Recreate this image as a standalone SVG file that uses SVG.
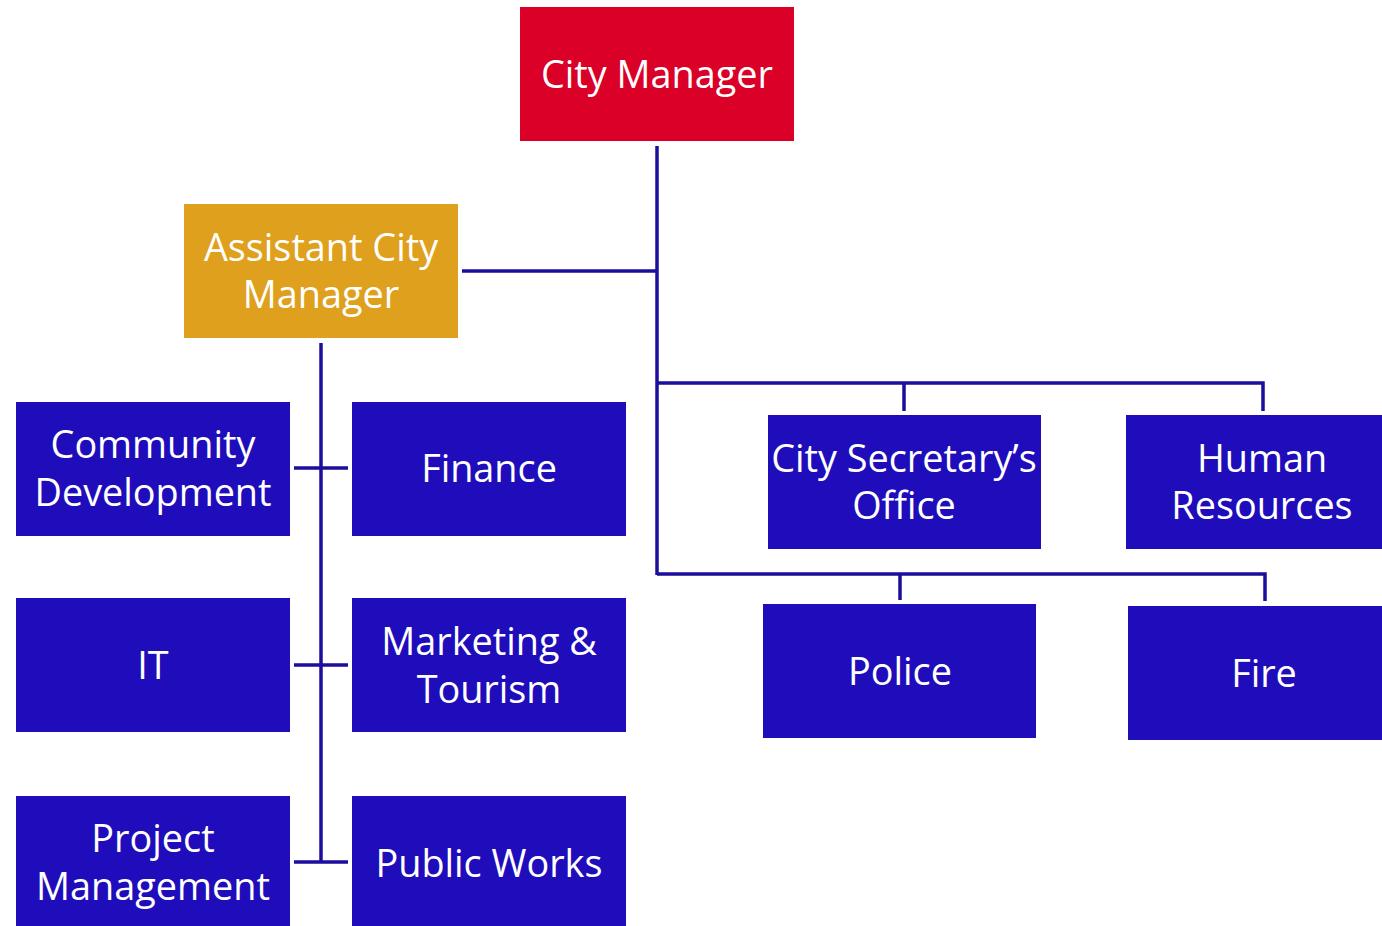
<svg xmlns="http://www.w3.org/2000/svg" width="1382" height="926" viewBox="0 0 1382 926">
  <style>
    .box { fill: #1F0DBB; }
    .lbl { fill: #ffffff; font-family: "Open Sans", "Noto Sans", "Liberation Sans", sans-serif; font-size: 37.8px; text-anchor: middle; }
    .wire { fill: none; stroke: #1C0E9C; stroke-width: 3.5; }
  </style>
  <rect width="1382" height="926" fill="#ffffff"/>

  <!-- reporting lines -->
  <g id="connectors">
    <path class="wire" d="M657 146 V575"/>
    <path class="wire" d="M462 271 H657"/>
    <path class="wire" d="M657 383 H1263 V411 M904 383 V411"/>
    <path class="wire" d="M657 574 H1265 V601 M900 574 V600"/>
    <path class="wire" d="M321 343 V862"/>
    <path class="wire" d="M294 468 H348 M294 665 H348 M294 862 H348"/>
  </g>

  <g id="city-manager">
    <rect x="520" y="7" width="274" height="134" fill="#DA0027"/>
    <text class="lbl" x="657" y="88">City Manager</text>
  </g>

  <g id="assistant-city-manager">
    <rect x="184" y="204" width="274" height="134" fill="#DFA01E"/>
    <text class="lbl" x="321" y="261">Assistant City</text>
    <text class="lbl" x="321" y="308">Manager</text>
  </g>

  <g id="community-development">
    <rect class="box" x="16" y="402" width="274" height="134"/>
    <text class="lbl" x="153" y="458">Community</text>
    <text class="lbl" x="153" y="506">Development</text>
  </g>

  <g id="finance">
    <rect class="box" x="352" y="402" width="274" height="134"/>
    <text class="lbl" x="489" y="482">Finance</text>
  </g>

  <g id="it">
    <rect class="box" x="16" y="598" width="274" height="134"/>
    <text class="lbl" x="153" y="679">IT</text>
  </g>

  <g id="marketing-tourism">
    <rect class="box" x="352" y="598" width="274" height="134"/>
    <text class="lbl" x="489" y="655">Marketing &amp;</text>
    <text class="lbl" x="489" y="703">Tourism</text>
  </g>

  <g id="project-management">
    <rect class="box" x="16" y="796" width="274" height="130"/>
    <text class="lbl" x="153" y="852">Project</text>
    <text class="lbl" x="153" y="900">Management</text>
  </g>

  <g id="public-works">
    <rect class="box" x="352" y="796" width="274" height="130"/>
    <text class="lbl" x="489" y="877">Public Works</text>
  </g>

  <g id="city-secretary">
    <rect class="box" x="768" y="415" width="273" height="134"/>
    <text class="lbl" x="904" y="472">City Secretary’s</text>
    <text class="lbl" x="904" y="519">Office</text>
  </g>

  <g id="human-resources">
    <rect class="box" x="1126" y="415" width="256" height="134"/>
    <text class="lbl" x="1262" y="472">Human</text>
    <text class="lbl" x="1262" y="519">Resources</text>
  </g>

  <g id="police">
    <rect class="box" x="763" y="604" width="273" height="134"/>
    <text class="lbl" x="900" y="685">Police</text>
  </g>

  <g id="fire">
    <rect class="box" x="1128" y="606" width="254" height="134"/>
    <text class="lbl" x="1264" y="687">Fire</text>
  </g>
</svg>
